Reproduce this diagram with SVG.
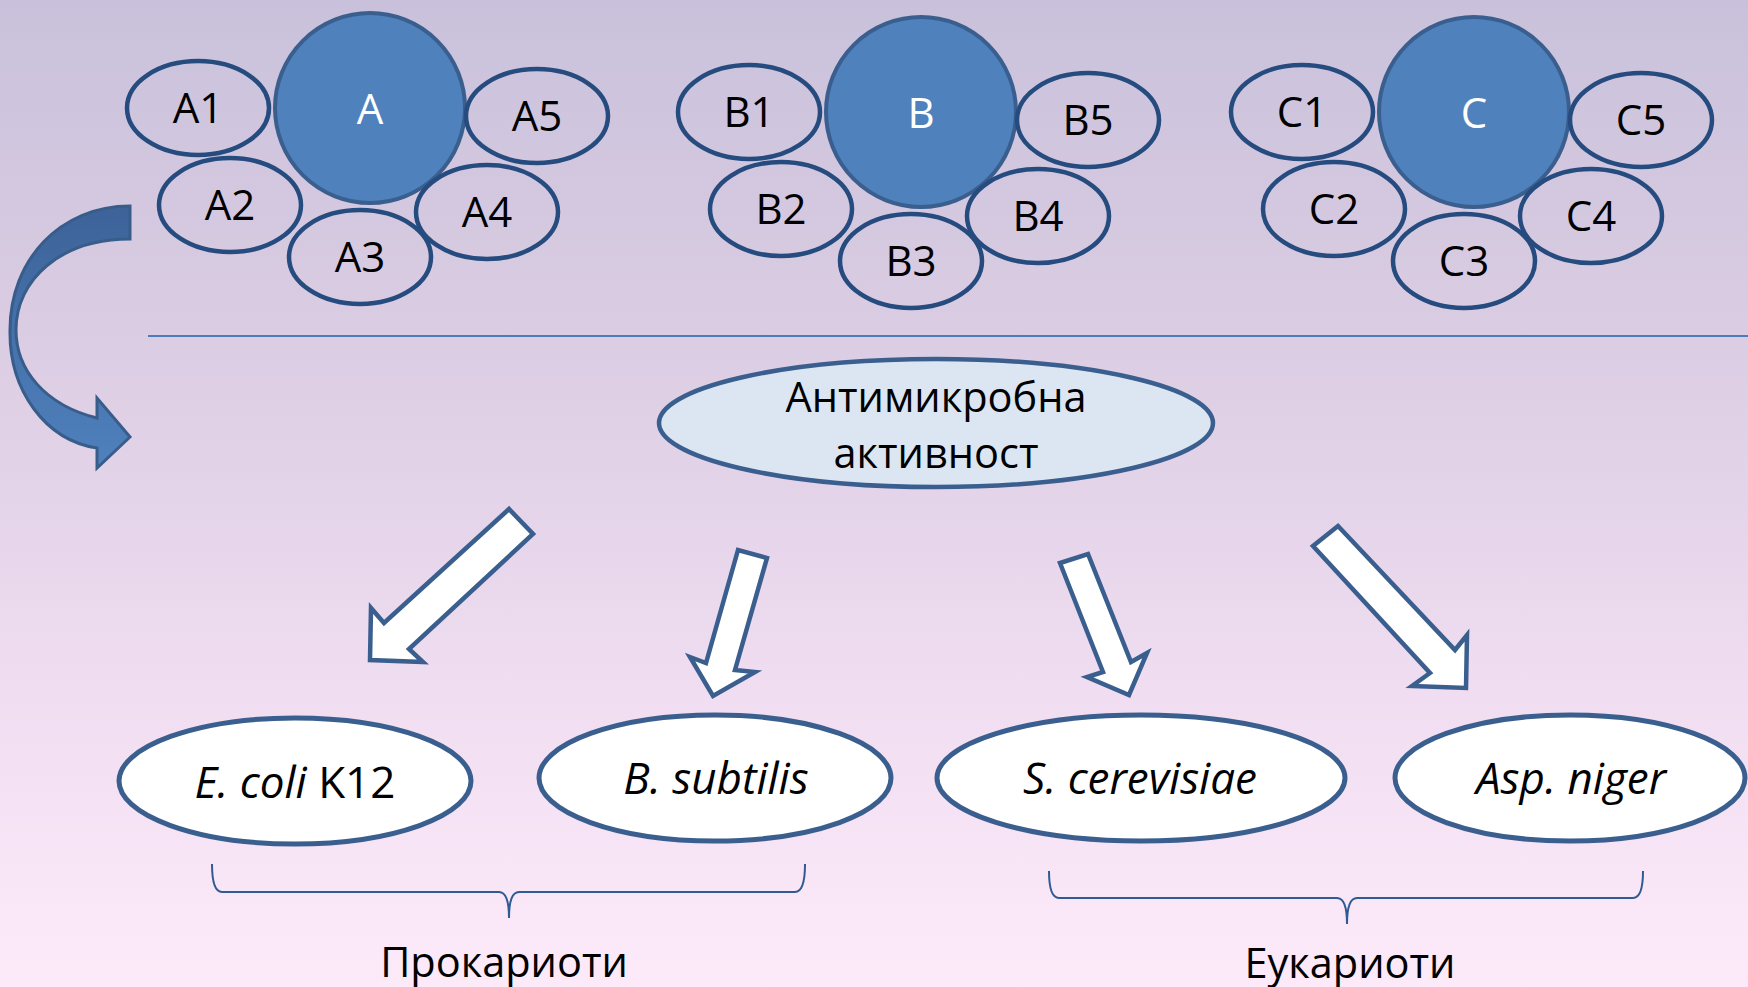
<svg xmlns="http://www.w3.org/2000/svg" width="1748" height="987" viewBox="0 0 1748 987">
<defs>
<linearGradient id="bg" x1="0" y1="0" x2="0" y2="1">
<stop offset="0" stop-color="#C9C1DB"/>
<stop offset="0.35" stop-color="#DBCDE3"/>
<stop offset="0.7" stop-color="#F0DDF1"/>
<stop offset="1" stop-color="#FDEAF9"/>
</linearGradient>
<linearGradient id="curv" x1="0" y1="0" x2="0" y2="1">
<stop offset="0" stop-color="#3D6399"/>
<stop offset="1" stop-color="#4F81BD"/>
</linearGradient>
<style>
.t{font-family:"Open Sans","Liberation Sans",sans-serif;font-size:42px;fill:#000;text-anchor:middle}
.m{font-size:41.5px}
.o{font-size:44px}
.w{fill:#fff}
.i{font-style:italic}
.sub{fill:none;stroke:#264B7E;stroke-width:4.5}
.big{fill:#4F81BD;stroke:#3A5F8E;stroke-width:4}
.org{fill:#fff;stroke:#3A5F8E;stroke-width:5}
.blk{fill:#fff;stroke:#3A5F8E;stroke-width:4.5;stroke-linejoin:miter}
.br{fill:none;stroke:#2F5A93;stroke-width:2}
</style>
</defs>
<rect x="0" y="0" width="1748" height="987" fill="url(#bg)"/>

<g id="groupA">
<circle class="big" cx="370" cy="108" r="95"/>
<text class="t w" x="370" y="124">A</text>
<ellipse class="sub" cx="198" cy="108" rx="71" ry="47"/><text class="t" x="198" y="123">A1</text>
<ellipse class="sub" cx="230" cy="205" rx="71" ry="47"/><text class="t" x="230" y="220">A2</text>
<ellipse class="sub" cx="360" cy="257" rx="71" ry="47"/><text class="t" x="360" y="272">A3</text>
<ellipse class="sub" cx="487" cy="212" rx="71" ry="47"/><text class="t" x="487" y="227">A4</text>
<ellipse class="sub" cx="537" cy="116" rx="71" ry="47"/><text class="t" x="537" y="131">A5</text>
</g>

<g id="groupB">
<circle class="big" cx="921" cy="112" r="95"/>
<text class="t w" x="921" y="128">B</text>
<ellipse class="sub" cx="749" cy="112" rx="71" ry="47"/><text class="t" x="749" y="127">B1</text>
<ellipse class="sub" cx="781" cy="209" rx="71" ry="47"/><text class="t" x="781" y="224">B2</text>
<ellipse class="sub" cx="911" cy="261" rx="71" ry="47"/><text class="t" x="911" y="276">B3</text>
<ellipse class="sub" cx="1038" cy="216" rx="71" ry="47"/><text class="t" x="1038" y="231">B4</text>
<ellipse class="sub" cx="1088" cy="120" rx="71" ry="47"/><text class="t" x="1088" y="135">B5</text>
</g>

<g id="groupC">
<circle class="big" cx="1474" cy="112" r="95"/>
<text class="t w" x="1474" y="128">C</text>
<ellipse class="sub" cx="1302" cy="112" rx="71" ry="47"/><text class="t" x="1302" y="127">C1</text>
<ellipse class="sub" cx="1334" cy="209" rx="71" ry="47"/><text class="t" x="1334" y="224">C2</text>
<ellipse class="sub" cx="1464" cy="261" rx="71" ry="47"/><text class="t" x="1464" y="276">C3</text>
<ellipse class="sub" cx="1591" cy="216" rx="71" ry="47"/><text class="t" x="1591" y="231">C4</text>
<ellipse class="sub" cx="1641" cy="120" rx="71" ry="47"/><text class="t" x="1641" y="135">C5</text>
</g>

<line x1="148" y1="336" x2="1748" y2="336" stroke="#4A7EBB" stroke-width="2"/>

<g id="activity">
<ellipse cx="936" cy="423" rx="277" ry="64" fill="#DCE6F2" stroke="#3A5F8E" stroke-width="4.5"/>
<text class="t m" x="936" y="412">Антимикробна</text>
<text class="t m" x="936" y="468">активност</text>
</g>

<g id="ecoli">
<ellipse class="org" cx="295" cy="781" rx="176" ry="63"/>
<text class="t o" x="295" y="798"><tspan class="i">E. coli</tspan> K12</text>
</g>
<g id="bsubtilis">
<ellipse class="org" cx="715" cy="778" rx="176" ry="63"/>
<text class="t o i" x="716" y="794">B. subtilis</text>
</g>
<g id="scerevisiae">
<ellipse class="org" cx="1141" cy="778" rx="204" ry="63"/>
<text class="t o i" x="1140" y="794">S. cerevisiae</text>
</g>
<g id="aspniger">
<ellipse class="org" cx="1570" cy="778" rx="175" ry="63"/>
<text class="t o i" x="1571" y="794">Asp. niger</text>
</g>

<g id="connectors">
<path d="M130,206 C60,206 10,260 10,330 C9,390 45,440 97,448 L97,468 L130,437 L97,398 L97,418 C45,405 16,370 16,330 C16,280 60,239 130,239 Z" fill="url(#curv)" stroke="#385D8A" stroke-width="3" stroke-linejoin="miter"/>
<polygon class="blk" points="509,509 384,623 371,608 370,660 423,662 409,649 533,534"/>
<polygon class="blk" points="738,550 706,663 690,657 713,696 755,672 735,670 767,558"/>
<polygon class="blk" points="1060,563 1103,672 1087,677 1129,695 1147,653 1131,662 1088,554"/>
<polygon class="blk" points="1338,526 1455,650 1467,635 1466,688 1412,686 1430,673 1313,546"/>
</g>

<g id="prokaryotes">
<path class="br" d="M212,864 Q212,892 222,892 L499,892 Q509,892 509,918 Q509,892 519,892 L795,892 Q805,892 805,864"/>
<text class="t m" x="504" y="977">Прокариоти</text>
</g>
<g id="eukaryotes">
<path class="br" d="M1049,871 Q1049,898 1059,898 L1337,898 Q1347,898 1347,924 Q1347,898 1357,898 L1633,898 Q1643,898 1643,871"/>
<text class="t m" x="1350" y="978">Еукариоти</text>
</g>
</svg>
